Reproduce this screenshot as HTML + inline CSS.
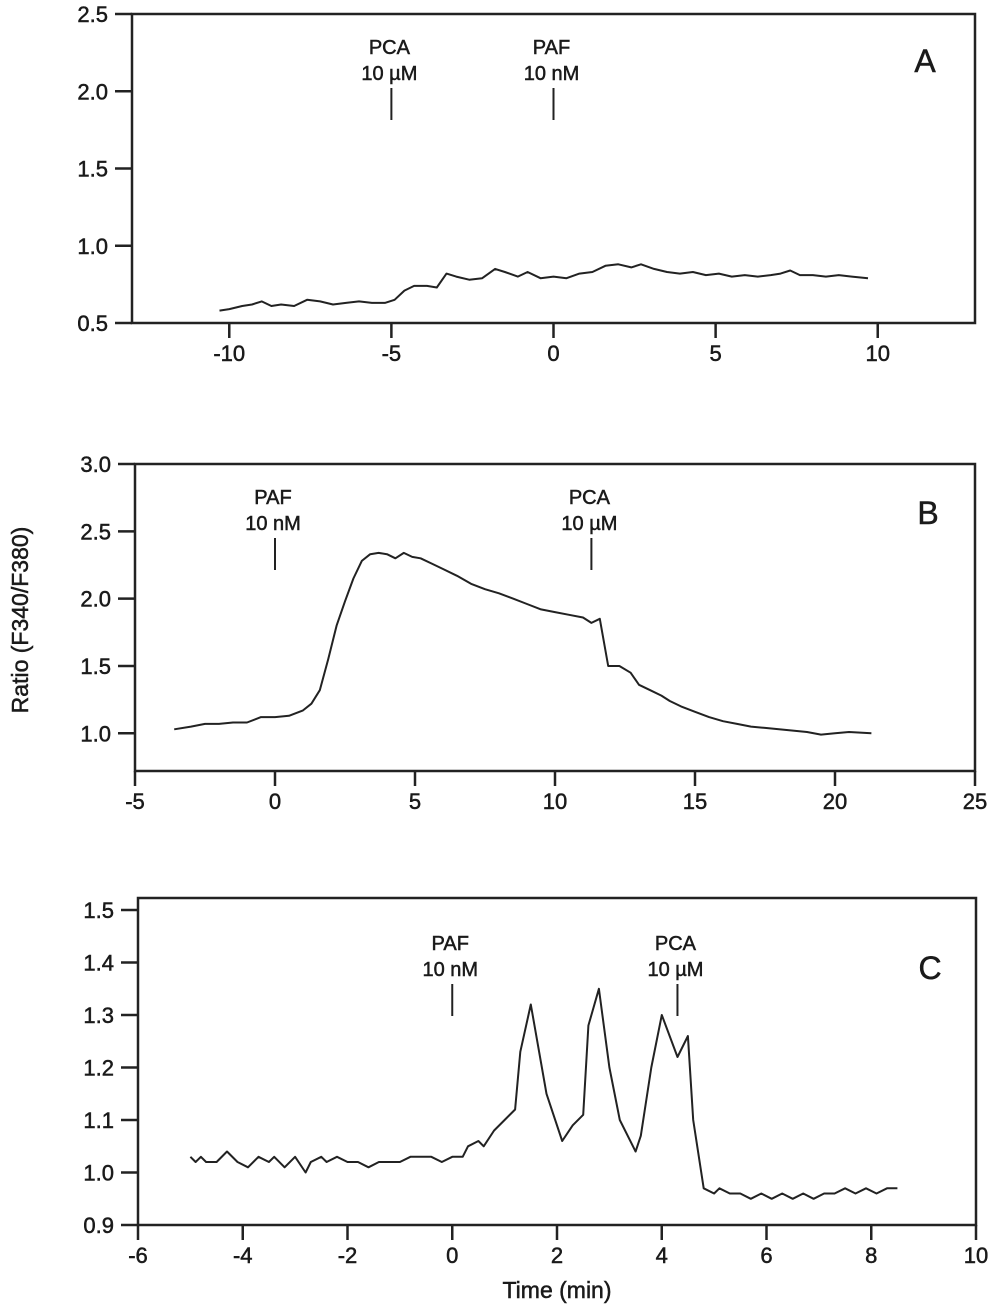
<!DOCTYPE html>
<html><head><meta charset="utf-8"><style>
html,body{margin:0;padding:0;background:#fff;}
svg{display:block;font-family:"Liberation Sans",Arial,sans-serif;}
</style></head><body>
<svg id="fig" width="1000" height="1306" viewBox="0 0 1000 1306"></svg>
<script>
// Panel A data
const aX=[-10.3,-10,-9.6,-9.3,-9,-8.7,-8.4,-8,-7.6,-7.2,-6.8,-6.4,-6,-5.6,-5.2,-4.9,-4.6,-4.3,-3.9,-3.6,-3.3,-3,-2.6,-2.2,-1.8,-1.5,-1.1,-0.8,-0.4,0,0.4,0.8,1.2,1.6,2,2.4,2.7,3.1,3.5,3.9,4.3,4.7,5.1,5.5,5.9,6.3,6.7,7.0,7.3,7.6,8,8.4,8.8,9.2,9.7];
const aY=[0.58,0.59,0.61,0.62,0.64,0.61,0.62,0.61,0.65,0.64,0.62,0.63,0.64,0.63,0.63,0.65,0.71,0.74,0.74,0.73,0.82,0.80,0.78,0.79,0.85,0.83,0.80,0.83,0.79,0.80,0.79,0.82,0.83,0.87,0.88,0.86,0.88,0.85,0.83,0.82,0.83,0.81,0.82,0.80,0.81,0.80,0.81,0.82,0.84,0.81,0.81,0.80,0.81,0.80,0.79];
const aXTicks=[-10,-5,0,5,10];
const aYTicks=[0.5,1.0,1.5,2.0,2.5];
// Panel B data
const bX=[-3.6,-3,-2.5,-2,-1.5,-1,-0.5,0,0.5,1,1.3,1.6,1.9,2.2,2.5,2.8,3.1,3.4,3.7,4,4.3,4.6,4.9,5.2,5.6,6,6.5,7,7.5,8,8.5,9,9.5,10,10.5,11,11.3,11.6,11.9,12.3,12.7,13,13.4,13.8,14.1,14.5,15,15.5,16,16.5,17,17.5,18,18.5,19,19.5,20,20.5,21.3];
const bY=[1.03,1.05,1.07,1.07,1.08,1.08,1.12,1.12,1.13,1.17,1.22,1.32,1.55,1.80,1.98,2.15,2.28,2.33,2.34,2.33,2.30,2.34,2.31,2.30,2.26,2.22,2.17,2.11,2.07,2.04,2.00,1.96,1.92,1.90,1.88,1.86,1.82,1.85,1.50,1.50,1.45,1.36,1.32,1.28,1.24,1.20,1.16,1.12,1.09,1.07,1.05,1.04,1.03,1.02,1.01,0.99,1.00,1.01,1.00];
const bXTicks=[-5,0,5,10,15,20,25];
const bYTicks=[1.0,1.5,2.0,2.5,3.0];
// Panel C data
const cX=[-5,-4.9,-4.8,-4.7,-4.5,-4.3,-4.1,-3.9,-3.7,-3.5,-3.4,-3.2,-3.0,-2.8,-2.7,-2.5,-2.4,-2.2,-2.0,-1.8,-1.6,-1.4,-1.2,-1.0,-0.8,-0.6,-0.4,-0.2,0,0.2,0.3,0.5,0.6,0.8,1.0,1.2,1.3,1.5,1.8,2.1,2.3,2.5,2.6,2.8,3.0,3.2,3.5,3.6,3.8,4.0,4.3,4.5,4.6,4.8,5.0,5.1,5.3,5.5,5.7,5.9,6.1,6.3,6.5,6.7,6.9,7.1,7.3,7.5,7.7,7.9,8.1,8.3,8.5];
const cY=[1.03,1.02,1.03,1.02,1.02,1.04,1.02,1.01,1.03,1.02,1.03,1.01,1.03,1.00,1.02,1.03,1.02,1.03,1.02,1.02,1.01,1.02,1.02,1.02,1.03,1.03,1.03,1.02,1.03,1.03,1.05,1.06,1.05,1.08,1.10,1.12,1.23,1.32,1.15,1.06,1.09,1.11,1.28,1.35,1.20,1.10,1.04,1.07,1.20,1.30,1.22,1.26,1.10,0.97,0.96,0.97,0.96,0.96,0.95,0.96,0.95,0.96,0.95,0.96,0.95,0.96,0.96,0.97,0.96,0.97,0.96,0.97,0.97];
const cXTicks=[-6,-4,-2,0,2,4,6,8,10];
const cYTicks=[0.9,1.0,1.1,1.2,1.3,1.4,1.5];

const svg=document.getElementById('fig');
const NS='http://www.w3.org/2000/svg';
function mk(tag,attrs,parent){const e=document.createElementNS(NS,tag);for(const k in attrs)e.setAttribute(k,attrs[k]);(parent||svg).appendChild(e);return e;}
const TXT={fill:'#1a1a1a',stroke:'#1a1a1a','stroke-width':0.5};

function panel(cfg){
  const g=mk('g',{});
  
  
  const sx=v=>cfg.x0+(v-cfg.xmin)*(cfg.x1-cfg.x0)/(cfg.xmax-cfg.xmin);
  const sy=v=>cfg.y0-(v-cfg.ymin)*(cfg.y0-cfg.y1)/(cfg.ymax-cfg.ymin);
  const frame=mk('rect',{x:cfg.x0,y:cfg.top,width:cfg.x1-cfg.x0,height:cfg.y0-cfg.top,fill:'none',stroke:'#222','stroke-width':2.5},g);
  
  
  cfg.yt.forEach(v=>{
    const y=sy(v);
    const t=mk('line',{x1:cfg.x0-17,x2:cfg.x0,y1:y,y2:y,stroke:'#222','stroke-width':2.5},g);
    
    
    const l=mk('text',Object.assign({x:cfg.x0-24,y:y+8,'text-anchor':'end','font-size':22},TXT),g);
    l.textContent=v.toFixed(1);
    
    
  });
  cfg.xt.forEach(v=>{
    const x=sx(v);
    const t=mk('line',{x1:x,x2:x,y1:cfg.y0,y2:cfg.y0+15,stroke:'#222','stroke-width':2.5},g);
    
    
    const l=mk('text',Object.assign({x:x,y:cfg.y0+38,'text-anchor':'middle','font-size':22},TXT),g);
    l.textContent=String(v);
    
    
  });
  const pts=cfg.xs.map((x,i)=>sx(x).toFixed(1)+','+sy(cfg.ys[i]).toFixed(1)).join(' ');
  const pl=mk('polyline',{points:pts,fill:'none',stroke:'#222','stroke-width':2,'stroke-linejoin':'round'},g);
  
  
  cfg.marks.forEach(m=>{
    const x=sx(m.t);
    const ln=mk('line',{x1:x,x2:x,y1:m.y,y2:m.y+32,stroke:'#222','stroke-width':2},g);
    
    
    const t1=mk('text',Object.assign({x:x-2,y:m.y-34,'text-anchor':'middle','font-size':20},TXT),g);
    t1.textContent=m.a;
    
    
    const t2=mk('text',Object.assign({x:x-2,y:m.y-8,'text-anchor':'middle','font-size':20},TXT),g);
    t2.textContent=m.b;
    
    
  });
  const pl2=mk('text',Object.assign({x:cfg.lx,y:cfg.ly,'text-anchor':'middle','font-size':32},TXT),g);
  pl2.textContent=cfg.id;
  
  
}

panel({id:'A',x0:132,x1:975,top:14,y0:323,xmin:-13,xmax:13,ymin:0.5,ymax:2.5,y1:14,xs:aX,ys:aY,xt:aXTicks,yt:aYTicks,
  marks:[{t:-5,a:'PCA',b:'10 \u00b5M',y:88},{t:0,a:'PAF',b:'10 nM',y:88}],lx:925,ly:72});
panel({id:'B',x0:135,x1:975,top:464,y0:771,xmin:-5,xmax:25,ymin:0.72,ymax:3.0,y1:464,xs:bX,ys:bY,xt:bXTicks,yt:bYTicks,
  marks:[{t:0,a:'PAF',b:'10 nM',y:538},{t:11.3,a:'PCA',b:'10 \u00b5M',y:538}],lx:928,ly:524});
panel({id:'C',x0:138,x1:976,top:898,y0:1225,xmin:-6,xmax:10,ymin:0.9,ymax:1.5,y1:910,xs:cX,ys:cY,xt:cXTicks,yt:cYTicks,
  marks:[{t:0,a:'PAF',b:'10 nM',y:984},{t:4.3,a:'PCA',b:'10 \u00b5M',y:984}],lx:930,ly:979});

const yl=mk('text',Object.assign({x:0,y:0,'text-anchor':'middle','font-size':23,transform:'translate(28,620) rotate(-90)'},TXT));
yl.textContent='Ratio (F340/F380)';


const xl=mk('text',Object.assign({x:557,y:1298,'text-anchor':'middle','font-size':23},TXT));
xl.textContent='Time (min)';


</script>
</body></html>
